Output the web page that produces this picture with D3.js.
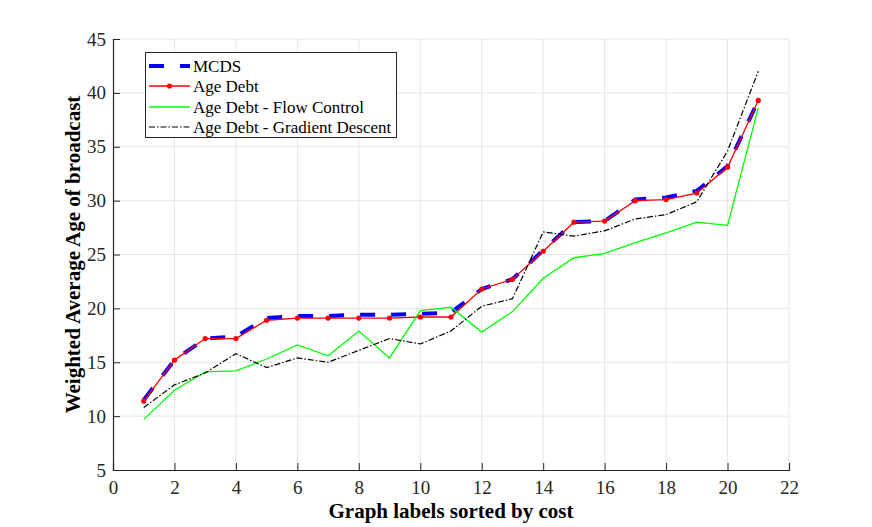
<!DOCTYPE html>
<html><head><meta charset="utf-8">
<script src="https://cdn.jsdelivr.net/npm/d3@7"></script>
<style>body{margin:0;background:#fff}svg{display:block}</style>
</head><body>
<svg id="c" width="872" height="527"></svg>
<script>
const xs = d3.range(1, 22);
const mcds = [11.5,15.2,17.2,17.4,19.1,19.3,19.3,19.4,19.4,19.5,19.6,21.8,22.7,25.4,28.0,28.1,30.1,30.3,30.9,33.2,39.3];
const ageDebt = [11.4,15.2,17.2,17.2,18.9,19.1,19.1,19.1,19.1,19.2,19.2,21.8,22.7,25.3,28.0,28.1,30.0,30.1,30.7,33.1,39.3];
const flowCtrl = [9.7,12.4,14.1,14.2,15.3,16.6,15.6,17.9,15.4,19.8,20.1,17.8,19.7,22.8,24.7,25.1,26.1,27.0,28.0,27.7,38.6];
const gradDesc = [10.8,12.9,14.0,15.8,14.5,15.4,15.0,16.1,17.2,16.7,17.9,20.2,20.9,27.1,26.7,27.2,28.3,28.7,29.9,34.6,42.0];
const xTicks = d3.range(0, 23, 2);
const yTicks = d3.range(5, 46, 5);
const legendLabels = ["MCDS","Age Debt","Age Debt - Flow Control","Age Debt - Gradient Descent"];

const svg = d3.select("#c");
const m = {l:113, r:83, t:39, b:57};
const W = 872, H = 527;
const x = d3.scaleLinear().domain([0,22]).range([m.l, W-m.r]);
const y = d3.scaleLinear().domain([5,45]).range([H-m.b, m.t]);
const font = "'Liberation Serif','Times New Roman',serif";
const axisCol = "#262626";

// grid
const g = svg.append("g");
g.selectAll("line.vx").data(xTicks.slice(1)).join("line")
 .attr("x1",d=>x(d)).attr("x2",d=>x(d)).attr("y1",y(5)).attr("y2",y(45))
 .attr("stroke","#e6e6e6").attr("stroke-width",1);
g.selectAll("line.hy").data(yTicks.slice(1)).join("line")
 .attr("y1",d=>y(d)).attr("y2",d=>y(d)).attr("x1",x(0)).attr("x2",x(22))
 .attr("stroke","#e6e6e6").attr("stroke-width",1);

// axes
const xa = svg.append("g").attr("transform",`translate(0,${y(5)})`)
 .call(d3.axisBottom(x).tickValues(xTicks).tickSize(-7).tickPadding(11).tickFormat(d3.format("d")));
const ya = svg.append("g").attr("transform",`translate(${x(0)},0)`)
 .call(d3.axisLeft(y).tickValues(yTicks).tickSize(-7).tickPadding(7).tickFormat(d3.format("d")));
[xa,ya].forEach(a=>{
  a.select(".domain").attr("stroke",axisCol).attr("stroke-width",1.2);
  a.selectAll(".tick line").attr("stroke",axisCol);
  a.selectAll("text").attr("font-family",font).attr("font-size",19).attr("fill","#262626");
});

// lines
const line = d3.line().x((d,i)=>x(xs[i])).y(d=>y(d));
svg.append("path").datum(mcds).attr("d",line).attr("fill","none")
 .attr("stroke","#0000ff").attr("stroke-width",4).attr("stroke-dasharray","15,16");
svg.append("path").datum(ageDebt).attr("d",line).attr("fill","none")
 .attr("stroke","#ff0000").attr("stroke-width",1.3);
svg.selectAll("circle.ad").data(ageDebt).join("circle")
 .attr("cx",(d,i)=>x(xs[i])).attr("cy",d=>y(d)).attr("r",2.6).attr("fill","#ff0000");
svg.append("path").datum(flowCtrl).attr("d",line).attr("fill","none")
 .attr("stroke","#00ff00").attr("stroke-width",1.3);
svg.append("path").datum(gradDesc).attr("d",line).attr("fill","none")
 .attr("stroke","#000000").attr("stroke-width",1.2).attr("stroke-dasharray","6,2,1.5,2");

// legend
const lg = svg.append("g");
lg.append("rect").attr("x",145.5).attr("y",52.5).attr("width",251).attr("height",85)
 .attr("fill","#fff").attr("stroke","#262626").attr("stroke-width",1);
const rows = [66,86,107,127];
const styles = [
 {c:"#0000ff",w:4,da:"15,16"},
 {c:"#ff0000",w:1.3,da:null,mk:true},
 {c:"#00ff00",w:1.3,da:null},
 {c:"#000000",w:1.2,da:"6,2,1.5,2"}];
legendLabels.forEach((t,i)=>{
  const s = styles[i];
  lg.append("line").attr("x1",149).attr("x2",190).attr("y1",rows[i]).attr("y2",rows[i])
   .attr("stroke",s.c).attr("stroke-width",s.w).attr("stroke-dasharray",s.da);
  if(s.mk) lg.append("circle").attr("cx",169.5).attr("cy",rows[i]).attr("r",2.6).attr("fill",s.c);
  lg.append("text").attr("x",193).attr("y",rows[i]).attr("dy","0.35em")
   .attr("font-family",font).attr("font-size",17).attr("fill","#000").text(t);
});

// axis titles
svg.append("text").attr("x",(x(0)+x(22))/2).attr("y",518).attr("text-anchor","middle")
 .attr("font-family",font).attr("font-weight","bold").attr("font-size",21).text("Graph labels sorted by cost");
svg.append("text").attr("transform",`translate(80,${(y(5)+y(45))/2}) rotate(-90)`).attr("text-anchor","middle")
 .attr("font-family",font).attr("font-weight","bold").attr("font-size",21).text("Weighted Average Age of broadcast");
</script>
</body></html>
